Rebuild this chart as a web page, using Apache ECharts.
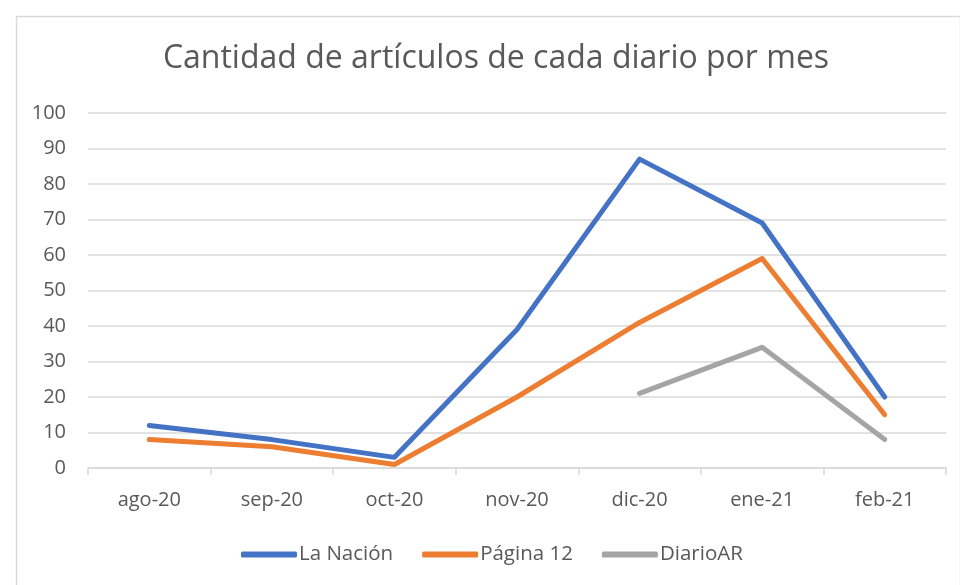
<!DOCTYPE html>
<html>
<head>
<meta charset="utf-8">
<script src="https://cdn.jsdelivr.net/npm/echarts@6/dist/echarts.min.js"></script>
<style>
  html, body { margin: 0; padding: 0; background: #fff; }
  #main { width: 960px; height: 585px; }
</style>
</head>
<body>
<div id="main"></div>
<script>
var months = ['ago-20', 'sep-20', 'oct-20', 'nov-20', 'dic-20', 'ene-21', 'feb-21'];
var laNacion = [12, 8, 3, 39, 87, 69, 20];
var pagina12 = [8, 6, 1, 20, 41, 59, 15];
var diarioAR = [null, null, null, null, 21, 34, 8];

var colors = ['#4472c4', '#ed7d31', '#a5a5a5'];
var font = '"Open Sans", "Liberation Sans", sans-serif';

var chart = echarts.init(document.getElementById('main'));

var option = {
  color: colors,
  animation: false,
  title: {
    text: 'Cantidad de artículos de cada diario por mes',
    left: 491,
    top: 38,
    textAlign: 'center',
    textStyle: {
      fontFamily: font,
      fontSize: 32,
      fontWeight: 'normal',
      color: '#595959'
    }
  },
  graphic: [{
    type: 'rect',
    left: 14,
    top: 14,
    shape: { width: 944, height: 600 },
    style: { fill: 'none', stroke: '#d9d9d9', lineWidth: 1.5 },
    silent: true
  }],
  legend: {
    bottom: 15,
    left: 236,
    itemWidth: 56,
    itemHeight: 6,
    itemGap: 29,
    icon: 'roundRect',
    textStyle: { fontFamily: font, fontSize: 20.5, color: '#595959', padding: [0, 0, 0, -3] },
    data: ['La Nación', 'Página 12', 'DiarioAR']
  },
  grid: {
    left: 88,
    right: 14,
    top: 113,
    bottom: 117
  },
  xAxis: {
    type: 'category',
    data: months,
    boundaryGap: true,
    axisLine: { lineStyle: { color: '#d9d9d9', width: 1.5 } },
    axisTick: { show: true, length: 7, lineStyle: { color: '#d9d9d9', width: 1.5 } },
    axisLabel: { fontFamily: font, fontSize: 20, color: '#595959', margin: 22 }
  },
  yAxis: {
    type: 'value',
    min: 0,
    max: 100,
    interval: 10,
    axisLine: { show: false },
    axisTick: { show: false },
    axisLabel: { fontFamily: font, fontSize: 20, color: '#595959', margin: 22 },
    splitLine: { lineStyle: { color: '#d9d9d9', width: 1.5 } }
  },
  series: [
    {
      name: 'La Nación',
      type: 'line',
      data: laNacion,
      symbol: 'none',
      lineStyle: { width: 5, cap: 'round', join: 'round' }
    },
    {
      name: 'Página 12',
      type: 'line',
      data: pagina12,
      symbol: 'none',
      lineStyle: { width: 5, cap: 'round', join: 'round' }
    },
    {
      name: 'DiarioAR',
      type: 'line',
      data: diarioAR,
      symbol: 'none',
      lineStyle: { width: 5, cap: 'round', join: 'round' }
    }
  ]
};

chart.setOption(option);
</script>
</body>
</html>
